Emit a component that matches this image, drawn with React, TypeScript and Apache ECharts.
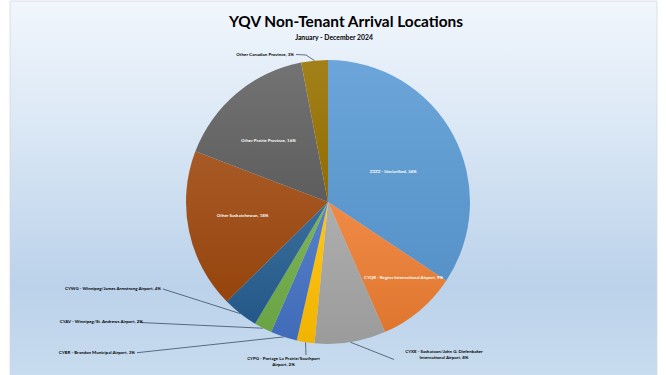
import React, { useEffect, useRef } from "react";
import * as echarts from "echarts";

// Arrival origins, January - December 2024 (share of non-tenant arrivals, %)
const categories = [
  "ZZZZ - Unclarified",
  "CYQR - Regina International Airport",
  "CYXE - Saskatoon/John G. Diefenbaker International Airport",
  "CYPG - Portage La Prairie/Southport Airport",
  "CYBR - Brandon Municipal Airport",
  "CYAV - Winnipeg/St. Andrews Airport",
  "CYWG - Winnipeg/James Armstrong Airport",
  "Other Saskatchewan",
  "Other Prairie Province",
  "Other Canadian Province",
];
const shares = [34, 9, 8, 2, 3, 2, 4, 18, 16, 3];
const sliceColors = [
  "#5b9bd5",
  "#ed7d31",
  "#a5a5a5",
  "#ffc000",
  "#4472c4",
  "#70ad47",
  "#255e91",
  "#9e480e",
  "#636363",
  "#997300",
];
// Labels that sit outside the pie, with a leader line
const outsideLabels = new Set([2, 3, 4, 5, 6, 9]);
// Line breaks for the two-line outside labels
const labelText: Record<number, string> = {
  2: "CYXE - Saskatoon/John G. Diefenbaker\nInternational Airport",
  3: "CYPG - Portage La Prairie/Southport\nAirport",
};

const FONT = "Lato, 'Noto Sans', sans-serif";

function shade(hex: string, amt: number): string {
  const n = parseInt(hex.slice(1), 16);
  const ch = [(n >> 16) & 255, (n >> 8) & 255, n & 255].map((v) =>
    Math.round(amt >= 0 ? v + (255 - v) * amt : v * (1 + amt))
  );
  return "#" + ch.map((v) => v.toString(16).padStart(2, "0")).join("");
}

// Nudges for the labels drawn inside their slices
const innerNudge: Record<number, [number, number]> = {
  0: [0, 4],
  1: [28, 19],
  7: [-13, -2],
  8: [-12, -5],
};
// Where the outside labels go, and where their leader lines end
const outerPlace: Record<
  number,
  { x: number; y: number; align: string; end: [number, number]; bend?: [number, number] }
> = {
  9: { x: 294, y: 54.5, align: "right", end: [296, 54.5], bend: [306, 55] },
  2: { x: 444, y: 354.5, align: "center", end: [394, 359.5] },
  3: { x: 283.5, y: 361.3, align: "center", end: [306, 355] },
  4: { x: 135, y: 352.3, align: "right", end: [137, 352.7] },
  5: { x: 143, y: 321, align: "right", end: [140, 322.5] },
  6: { x: 161, y: 288.3, align: "right", end: [163, 289] },
};

export default function App() {
  const ref = useRef<HTMLDivElement>(null);

  useEffect(() => {
    document.body.style.margin = "0";
    if (!ref.current) return;
    const chart = echarts.init(ref.current, null, { renderer: "svg" });

    const data = categories.map((name, i) => {
      const outside = outsideLabels.has(i);
      return {
        name,
        value: shares[i],
        itemStyle: {
          color: {
            type: "linear",
            x: 0,
            y: 0,
            x2: 0,
            y2: 1,
            colorStops: [
              { offset: 0, color: shade(sliceColors[i], 0.1) },
              { offset: 1, color: shade(sliceColors[i], -0.06) },
            ],
          },
        },
        label: {
          position: outside ? "outside" : "inside",
          color: outside ? "#000000" : "#ffffff",
          align: outside && outerPlace[i]?.align === "center" ? "center" : undefined,
        },
        labelLine: { show: outside },
      };
    });

    chart.setOption({
      animation: false,
      graphic: [
        {
          type: "rect",
          z: -10,
          silent: true,
          shape: { x: 10, y: 1, width: 647, height: 380 },
          style: {
            fill: {
              type: "linear",
              x: 0,
              y: 0,
              x2: 0,
              y2: 1,
              colorStops: [
                { offset: 0, color: "#f1f6fc" },
                { offset: 0.3, color: "#dde9f6" },
                { offset: 0.75, color: "#bbd2ea" },
                { offset: 1, color: "#c9dcef" },
              ],
            },
            stroke: "#d4d8de",
            lineWidth: 0.8,
          },
        },
        {
          type: "text",
          z: 10,
          x: 346,
          y: 21,
          style: {
            text: "YQV Non-Tenant Arrival Locations",
            align: "center",
            verticalAlign: "middle",
            font: `bold 15.4px ${FONT}`,
            fill: "#000000",
          },
        },
        {
          type: "text",
          z: 10,
          x: 334,
          y: 36.5,
          style: {
            text: "January - December 2024",
            align: "center",
            verticalAlign: "middle",
            font: `bold 6.8px ${FONT}`,
            fill: "#000000",
          },
        },
      ],
      series: [
        {
          type: "pie",
          center: [328, 202],
          radius: 142,
          startAngle: 90,
          clockwise: true,
          avoidLabelOverlap: false,
          data,
          label: {
            show: true,
            fontFamily: FONT,
            fontWeight: "bold",
            fontSize: 4.45,
            lineHeight: 6,
            formatter: (p: any) =>
              `${labelText[p.dataIndex] ?? p.name}, ${p.value}%`,
          },
          labelLine: {
            show: true,
            length: 8,
            length2: 8,
            smooth: false,
            lineStyle: { color: "#3e4c60", width: 0.8 },
          },
          labelLayout: (params: any) => {
            const i = params.dataIndex;
            const nudge = innerNudge[i];
            if (nudge) return { dx: nudge[0], dy: nudge[1] };
            const place = outerPlace[i];
            if (!place) return {};
            const edge = params.labelLinePoints
              ? params.labelLinePoints[0]
              : place.end;
            const mid = place.bend ?? [
              (edge[0] + place.end[0]) / 2,
              (edge[1] + place.end[1]) / 2,
            ];
            return {
              x: place.x,
              y: place.y,
              align: place.align,
              verticalAlign: "middle",
              labelLinePoints: [edge, mid, place.end],
            };
          },
        },
      ],
    });

    return () => chart.dispose();
  }, []);

  return <div ref={ref} style={{ width: 666, height: 375 }} />;
}
